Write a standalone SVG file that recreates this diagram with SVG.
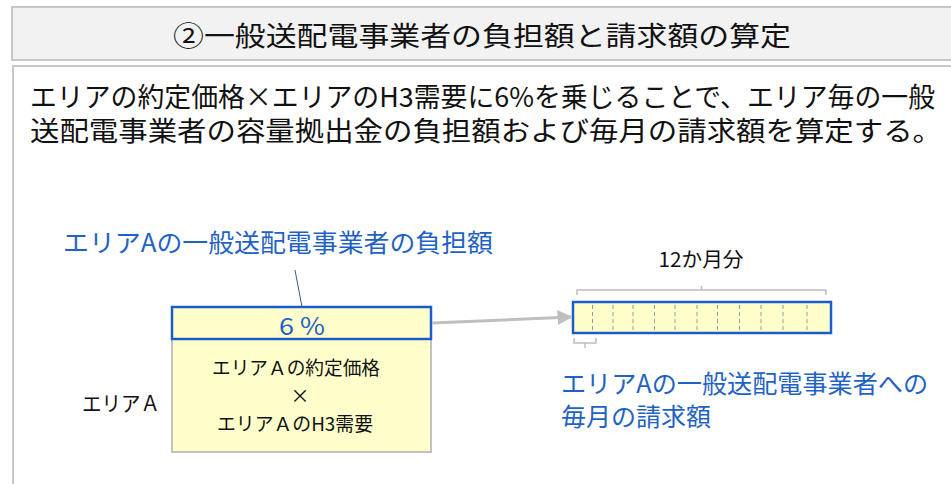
<svg xmlns="http://www.w3.org/2000/svg" width="951" height="484" viewBox="0 0 951 484">
<defs>
<style>
text{font-family:"Noto Sans CJK JP","Noto Sans",sans-serif;}
.blk{fill:#111;}
.blue{fill:#1f62c6;}
.frame{fill:#f2f2f2;stroke:#c8c8c8;stroke-width:2;}
.panel{fill:#ffffff;stroke:#c8c8c8;stroke-width:2;}
.yel{fill:#ffffcc;}
.gray{fill:none;stroke:#bfbfbf;stroke-width:1.5;}
.dash{stroke:#999;stroke-width:1;stroke-dasharray:4,3;}
</style>
<marker id="arr" viewBox="0 0 10 10" refX="9" refY="5" markerWidth="5" markerHeight="5" orient="auto" markerUnits="strokeWidth">
<path d="M0,0 L10,5 L0,10 z" fill="#bfbfbf"/>
</marker>
</defs>
<g id="header">
<rect class="frame" x="12" y="7" width="950" height="53"/>
<text class="blk" x="482" y="46" font-size="27" text-anchor="middle" textLength="618" lengthAdjust="spacingAndGlyphs">②一般送配電事業者の負担額と請求額の算定</text>
</g>
<g id="panel">
<rect class="panel" x="13" y="66" width="950" height="430"/>
<text class="blk" x="30" y="107" font-size="27" textLength="905" lengthAdjust="spacingAndGlyphs">エリアの約定価格×エリアのH3需要に6%を乗じることで、エリア毎の一般</text>
<text class="blk" x="30" y="141" font-size="27" textLength="912" lengthAdjust="spacingAndGlyphs">送配電事業者の容量拠出金の負担額および毎月の請求額を算定する。</text>
</g>
<g id="label-burden">
<text class="blue" x="63" y="252" font-size="25" textLength="430" lengthAdjust="spacingAndGlyphs">エリアAの一般送配電事業者の負担額</text>
</g>
<g id="label-areaA">
<text class="blk" x="82" y="411" font-size="21" textLength="78" lengthAdjust="spacingAndGlyphs">エリアＡ</text>
</g>
<g id="calc-box">
<rect x="172" y="307" width="259" height="145" class="yel" stroke="#c0c0c0" stroke-width="2"/>
<rect x="172" y="307" width="259" height="32" class="yel" stroke="#1a5ccc" stroke-width="2.5"/>
<text class="blue" x="302" y="335" font-size="24" text-anchor="middle" textLength="46" lengthAdjust="spacingAndGlyphs">6 %</text>
<text class="blk" x="296" y="375" font-size="19" text-anchor="middle" textLength="168" lengthAdjust="spacingAndGlyphs">エリアＡの約定価格</text>
<text class="blk" x="300" y="403" font-size="19" text-anchor="middle">×</text>
<text class="blk" x="295" y="431" font-size="19" text-anchor="middle" textLength="156" lengthAdjust="spacingAndGlyphs">エリアＡのH3需要</text>
</g>
<g id="monthly-bar">
<rect x="573" y="302" width="258" height="31" class="yel" stroke="#1a5ccc" stroke-width="2.5"/>
<g class="dash">
<line x1="592.5" y1="305" x2="592.5" y2="331"/>
<line x1="613" y1="305" x2="613" y2="331"/>
<line x1="633" y1="305" x2="633" y2="331"/>
<line x1="654.5" y1="305" x2="654.5" y2="331"/>
<line x1="675" y1="305" x2="675" y2="331"/>
<line x1="697" y1="305" x2="697" y2="331"/>
<line x1="717.5" y1="305" x2="717.5" y2="331"/>
<line x1="739.5" y1="305" x2="739.5" y2="331"/>
<line x1="761" y1="305" x2="761" y2="331"/>
<line x1="783" y1="305" x2="783" y2="331"/>
<line x1="807" y1="305" x2="807" y2="331"/>
</g>
<text class="blk" x="701" y="267" font-size="20" text-anchor="middle" textLength="85" lengthAdjust="spacingAndGlyphs">12か月分</text>
</g>
<g id="label-monthly">
<text class="blue" x="561" y="393" font-size="25" textLength="367" lengthAdjust="spacingAndGlyphs">エリアAの一般送配電事業者への</text>
<text class="blue" x="561" y="426" font-size="25" textLength="150" lengthAdjust="spacingAndGlyphs">毎月の請求額</text>
</g>
<g id="connectors">
<line x1="295" y1="270" x2="302" y2="307" stroke="#3a5a8a" stroke-width="1"/>
<line x1="432" y1="323" x2="571" y2="317" stroke="#bfbfbf" stroke-width="3" marker-end="url(#arr)"/>
<path class="gray" d="M577,295 V290 H826 V295 M701.5,290 V286"/>
<path class="gray" d="M574,338 V343 H596 V338 M585,343 V348"/>
</g>
</svg>
